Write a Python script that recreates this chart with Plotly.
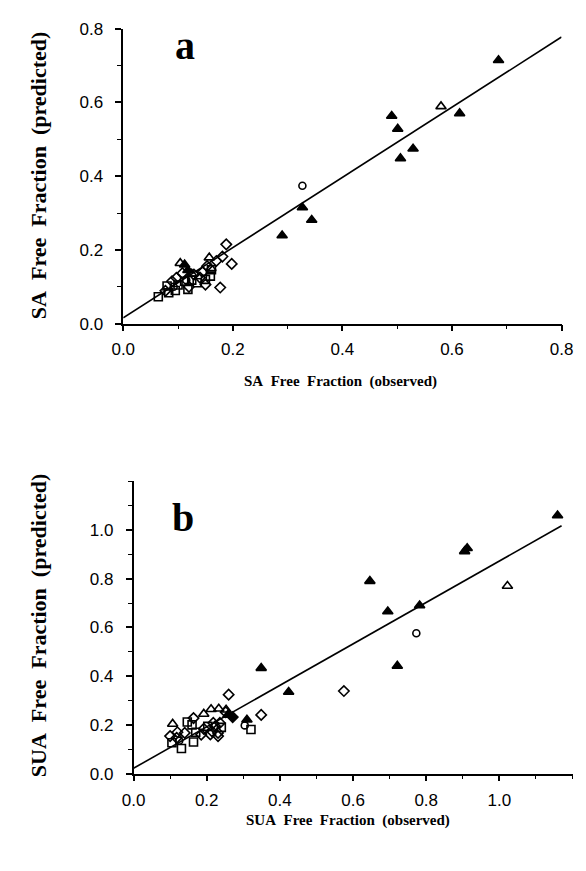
import plotly.graph_objects as go

W, H = 586, 871

# ---- Panel a: SA free fraction, observed vs predicted ----
a_tri_filled_x = [0.685, 0.490, 0.501, 0.614, 0.529, 0.506, 0.327, 0.344, 0.290, 0.112, 0.118]
a_tri_filled_y = [0.714, 0.563, 0.528, 0.570, 0.474, 0.448, 0.315, 0.281, 0.239, 0.160, 0.145]
a_tri_open_x = [0.580, 0.104, 0.157, 0.160, 0.125]
a_tri_open_y = [0.589, 0.164, 0.179, 0.150, 0.135]
a_circle_open_x = [0.327, 0.115, 0.092]
a_circle_open_y = [0.374, 0.118, 0.100]
a_square_open_x = [0.064, 0.080, 0.083, 0.118, 0.125, 0.112, 0.159, 0.161, 0.135, 0.095, 0.150, 0.100]
a_square_open_y = [0.073, 0.102, 0.084, 0.093, 0.118, 0.115, 0.129, 0.146, 0.111, 0.090, 0.120, 0.105]
a_diamond_open_x = [0.188, 0.181, 0.198, 0.177, 0.097, 0.089, 0.077, 0.129, 0.150, 0.153,
                    0.108, 0.140, 0.170, 0.120, 0.145]
a_diamond_open_y = [0.215, 0.182, 0.162, 0.098, 0.124, 0.115, 0.089, 0.133, 0.106, 0.156,
                    0.137, 0.125, 0.170, 0.100, 0.140]
a_fit_x = [0.0, 0.8]
a_fit_y = [0.016, 0.777]
a_ticks = [0.0, 0.2, 0.4, 0.6, 0.8]

# ---- Panel b: SUA free fraction, observed vs predicted ----
b_tri_filled_x = [1.159, 0.905, 0.912, 0.646, 0.695, 0.782, 0.721, 0.349, 0.424, 0.310, 0.258]
b_tri_filled_y = [1.059, 0.912, 0.925, 0.790, 0.665, 0.690, 0.442, 0.433, 0.335, 0.221, 0.241]
b_tri_open_x = [1.022, 0.107, 0.192, 0.212, 0.233, 0.253]
b_tri_open_y = [0.770, 0.204, 0.245, 0.264, 0.266, 0.262]
b_circle_open_x = [0.773, 0.304, 0.125]
b_circle_open_y = [0.576, 0.198, 0.135]
b_diamond_filled_x = [0.271]
b_diamond_filled_y = [0.232]
b_square_open_x = [0.321, 0.147, 0.105, 0.131, 0.164, 0.170, 0.203, 0.160, 0.240]
b_square_open_y = [0.181, 0.212, 0.127, 0.103, 0.130, 0.170, 0.194, 0.200, 0.190]
b_diamond_open_x = [0.575, 0.349, 0.260, 0.164, 0.252, 0.100, 0.118, 0.140, 0.192, 0.214,
                    0.223, 0.231, 0.236, 0.218, 0.231, 0.210, 0.120, 0.185]
b_diamond_open_y = [0.339, 0.241, 0.324, 0.228, 0.252, 0.154, 0.147, 0.167, 0.184, 0.174,
                    0.194, 0.167, 0.208, 0.208, 0.154, 0.161, 0.170, 0.160]
b_fit_x = [0.0, 1.17]
b_fit_y = [0.022, 1.017]
b_ticks = [0.0, 0.2, 0.4, 0.6, 0.8, 1.0]

fig = go.Figure()


def add_markers(x, y, symbol, size, xa, ya):
    fig.add_trace(go.Scatter(
        x=x, y=y, mode="markers", xaxis=xa, yaxis=ya, cliponaxis=False,
        marker=dict(symbol=symbol, size=size, color="black",
                    line=dict(color="black", width=1.6)),
        showlegend=False))


def add_line(x, y, xa, ya):
    fig.add_trace(go.Scatter(
        x=x, y=y, mode="lines", xaxis=xa, yaxis=ya,
        line=dict(color="black", width=1.6), showlegend=False))


add_line(a_fit_x, a_fit_y, "x", "y")
add_markers(a_square_open_x, a_square_open_y, "square-open", 8, "x", "y")
add_markers(a_diamond_open_x, a_diamond_open_y, "diamond-open", 8, "x", "y")
add_markers(a_circle_open_x, a_circle_open_y, "circle-open", 7, "x", "y")
add_markers(a_tri_open_x, a_tri_open_y, "triangle-up-open", 9, "x", "y")
add_markers(a_tri_filled_x, a_tri_filled_y, "triangle-up", 9, "x", "y")

add_line(b_fit_x, b_fit_y, "x2", "y2")
add_markers(b_square_open_x, b_square_open_y, "square-open", 8, "x2", "y2")
add_markers(b_diamond_open_x, b_diamond_open_y, "diamond-open", 8, "x2", "y2")
add_markers(b_circle_open_x, b_circle_open_y, "circle-open", 7, "x2", "y2")
add_markers(b_diamond_filled_x, b_diamond_filled_y, "diamond", 8, "x2", "y2")
add_markers(b_tri_open_x, b_tri_open_y, "triangle-up-open", 9, "x2", "y2")
add_markers(b_tri_filled_x, b_tri_filled_y, "triangle-up", 9, "x2", "y2")

tick_font = dict(family="Liberation Sans, Arial, sans-serif", size=17, color="black")
serif = "Liberation Serif, Times New Roman, serif"


def axis_style(rng, dom, anchor, ticks, standoff):
    return dict(
        range=rng, domain=dom, anchor=anchor, showgrid=False, zeroline=False,
        showline=True, linecolor="black", linewidth=1.5,
        ticks="outside", ticklen=6, tickwidth=1.5, tickcolor="black",
        tickmode="array", tickvals=ticks, ticktext=[f"{t:.1f}" for t in ticks],
        tickfont=tick_font, ticklabelstandoff=standoff,
        minor=dict(ticks="outside", ticklen=4, tickwidth=1.2, tickcolor="black",
                   tickmode="linear", tick0=0, dtick=0.1),
    )


def px_x(p):
    return p / W


def px_y(p):
    return 1 - p / H


fig.update_layout(
    width=W, height=H, margin=dict(l=0, r=0, t=0, b=0),
    paper_bgcolor="white", plot_bgcolor="white",
    xaxis=axis_style([0, 0.8], [px_x(116), px_x(573)], "y", a_ticks, 3),
    yaxis=axis_style([0, 0.8], [px_y(321.7), px_y(20)], "x", a_ticks, 9),
    xaxis2=axis_style([0, 1.2], [px_x(126.7), px_x(584.5)], "y2", b_ticks, 4),
    yaxis2=axis_style([0, 1.2], [px_y(781.7), px_y(482.7)], "x2", b_ticks, 9),
)

sp = "\u00a0\u00a0"
annotations = [
    dict(text="<b>SA" + sp + "Free" + sp + "Fraction" + sp + "(observed)</b>",
         x=px_x(343), y=px_y(381), font=dict(family=serif, size=15, color="black")),
    dict(text="<b>SUA" + sp + "Free" + sp + "Fraction" + sp + "(observed)</b>",
         x=px_x(350), y=px_y(830), font=dict(family=serif, size=15, color="black")),
    dict(text="<b>SA" + sp + "Free" + sp + "Fraction" + sp + "(predicted)</b>",
         x=px_x(27), y=px_y(170), textangle=-90,
         font=dict(family=serif, size=22, color="black")),
    dict(text="<b>SUA" + sp + "Free" + sp + "Fraction" + sp + "(predicted)</b>",
         x=px_x(27), y=px_y(630), textangle=-90,
         font=dict(family=serif, size=22, color="black")),
    dict(text="<b>a</b>", x=px_x(180), y=px_y(37),
         font=dict(family=serif, size=40, color="black")),
    dict(text="<b>b</b>", x=px_x(178), y=px_y(520),
         font=dict(family=serif, size=40, color="black")),
]
for a in annotations:
    a.update(xref="paper", yref="paper", showarrow=False, xanchor="center", yanchor="middle")
fig.update_layout(annotations=annotations)

fig.write_html("out.html")
